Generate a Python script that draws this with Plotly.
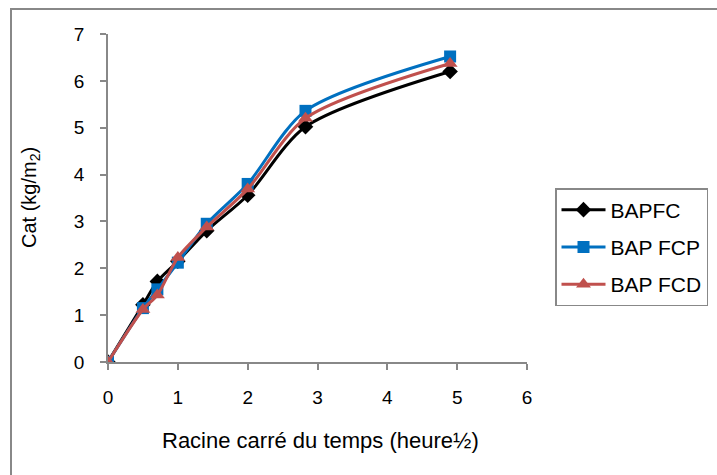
import plotly.graph_objects as go

x_sqrt_t = [0, 0.5, 0.707, 1.0, 1.414, 2.0, 2.828, 4.899]
bapfc = [0, 1.22, 1.72, 2.15, 2.80, 3.56, 5.02, 6.20]
bap_fcp = [0, 1.15, 1.55, 2.12, 2.95, 3.80, 5.36, 6.52]
bap_fcd = [0, 1.12, 1.43, 2.23, 2.88, 3.69, 5.20, 6.37]

series = [
    ("BAPFC", bapfc, "#000000", "diamond", 12),
    ("BAP FCP", bap_fcp, "#0070C0", "square", 12),
    ("BAP FCD", bap_fcd, "#C0504D", "triangle-up", 13),
]

fig = go.Figure()
for i, (name, ys, col, sym, sz) in enumerate(series):
    fig.add_trace(go.Scatter(
        x=x_sqrt_t, y=ys, name=name, mode="lines+markers",
        line=dict(color=col, width=3, shape="spline", smoothing=0.8),
        marker=dict(symbol=sym, size=sz, color=col),
        legendgroup=f"g{i}",
    ))

W, H = 717, 475
L, R, T, B = 108, 190, 34, 113
pw, ph = W - L - R, H - T - B

def px(xp):
    return (xp - L) / pw

def py(yp):
    return (H - B - yp) / ph

FONT = "Liberation Sans, Arial"
axis_common = dict(
    showgrid=False, zeroline=False, showline=True, linecolor="#888888", linewidth=1.5,
    ticks="outside", tickcolor="#888888", ticklen=6, tickwidth=1.5,
    tickfont=dict(family=FONT, size=19, color="#000000"),
)

fig.update_layout(
    width=W, height=H,
    margin=dict(l=L, r=R, t=T, b=B, autoexpand=False),
    paper_bgcolor="white", plot_bgcolor="white",
    xaxis=dict(range=[0, 6], dtick=1, ticklabelstandoff=11, **axis_common),
    yaxis=dict(range=[0, 7], dtick=1, ticklabelstandoff=12, **axis_common),
    showlegend=True,
    legend=dict(
        x=px(555), y=py(188), xanchor="left", yanchor="top",
        bgcolor="white", bordercolor="#888888", borderwidth=1.5,
        font=dict(family=FONT, size=21, color="#000000"),
        tracegroupgap=7, itemwidth=44,
    ),
    annotations=[
        dict(text="Racine carré du temps (heure½)", x=px(320), y=py(440), xref="paper", yref="paper",
             showarrow=False, xanchor="center", yanchor="middle",
             font=dict(family=FONT, size=22, color="#000000")),
        dict(text="Cat (kg/m<sub>2</sub>)", x=px(30), y=py(198), xref="paper", yref="paper",
             showarrow=False, xanchor="center", yanchor="middle", textangle=-90,
             font=dict(family=FONT, size=20, color="#000000")),
    ],
    shapes=[
        dict(type="rect", xref="paper", yref="paper", x0=px(11), y0=py(480), x1=px(730), y1=py(9),
             line=dict(color="#888888", width=2), layer="below"),
    ],
)

fig.write_html("out.html")
